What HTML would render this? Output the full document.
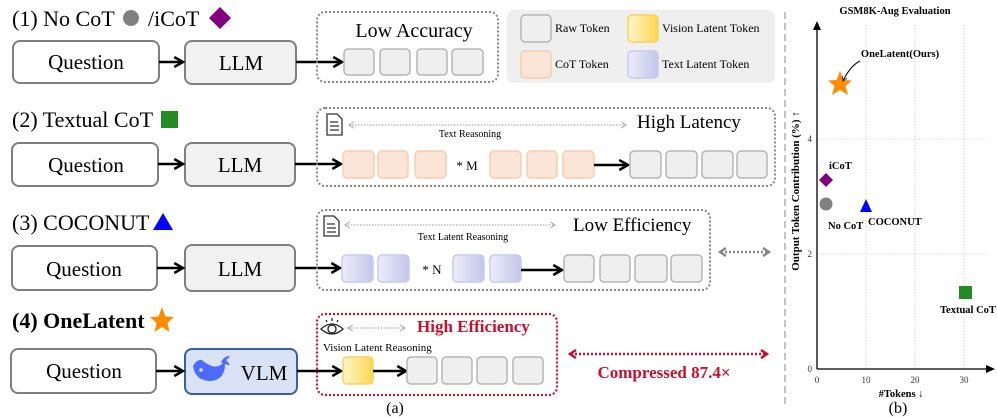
<!DOCTYPE html>
<html><head><meta charset="utf-8"><style>
html,body{margin:0;padding:0;background:#fff;}
svg{display:block;font-family:"Liberation Serif",serif;}
</style></head><body>
<svg width="997" height="418" viewBox="0 0 997 418" xmlns="http://www.w3.org/2000/svg">
<defs>
<marker id="ah" viewBox="0 0 10 10" refX="8" refY="5" markerWidth="5" markerHeight="5" orient="auto"><path d="M1,1 L8,5 L1,9" fill="none" stroke="#000" stroke-width="2"/></marker>
<marker id="ga" viewBox="0 0 10 10" refX="8" refY="5" markerWidth="8" markerHeight="8" orient="auto-start-reverse"><path d="M2,1 L8,5 L2,9" fill="none" stroke="#999" stroke-width="1"/></marker>
<marker id="gb" viewBox="0 0 10 10" refX="7" refY="5" markerWidth="4" markerHeight="4" orient="auto-start-reverse"><path d="M2,1 L8,5 L2,9" fill="none" stroke="#888" stroke-width="2.5"/></marker>
<marker id="rb" viewBox="0 0 10 10" refX="7" refY="5" markerWidth="4" markerHeight="4" orient="auto-start-reverse"><path d="M2,1 L8,5 L2,9" fill="none" stroke="#c8102e" stroke-width="2.5"/></marker>
<marker id="ka" viewBox="0 0 10 10" refX="8" refY="5" markerWidth="6" markerHeight="6" orient="auto"><path d="M1,1 L8,5 L1,9" fill="none" stroke="#000" stroke-width="1.2"/></marker>
<linearGradient id="gp" x1="0" x2="1"><stop offset="0" stop-color="#eceefa"/><stop offset="1" stop-color="#c3c6ea"/></linearGradient>
<linearGradient id="gy" x1="0" x2="1"><stop offset="0" stop-color="#fff6cc"/><stop offset="1" stop-color="#fbd651"/></linearGradient>
</defs>
<g font-size="22">
<!-- Row 1 -->
<text x="12" y="26">(1) No CoT</text>
<circle cx="131" cy="18" r="8" fill="#808080"/>
<text x="148" y="26">/iCoT</text>
<path d="M220,7 L231,18 L220,29 L209,18Z" fill="#800080"/>
<rect x="13" y="41" width="146" height="42" rx="7" fill="#fff" stroke="#7f7f7f" stroke-width="2"/>
<text x="86" y="69" text-anchor="middle" font-size="21">Question</text>
<rect x="185" y="41" width="111" height="43" rx="7" fill="#f1f1f1" stroke="#7f7f7f" stroke-width="2"/>
<text x="241" y="70" text-anchor="middle" font-size="21">LLM</text>
<line x1="159" y1="62" x2="183" y2="62" stroke="#000" stroke-width="2.5" marker-end="url(#ah)"/>
<line x1="296" y1="62" x2="342" y2="62" stroke="#000" stroke-width="2.5" marker-end="url(#ah)"/>
<rect x="317" y="12" width="181" height="70" rx="8" fill="none" stroke="#888" stroke-width="2" stroke-dasharray="2,2"/>
<text x="414" y="37" text-anchor="middle" font-size="20">Low Accuracy</text>
<g fill="#efefef" stroke="#b5b5b5" stroke-width="1.5">
<rect x="344" y="49" width="30" height="26" rx="4"/><rect x="380" y="49" width="30" height="26" rx="4"/><rect x="417" y="49" width="30" height="26" rx="4"/><rect x="452" y="49" width="31" height="26" rx="4"/>
</g>
<!-- Legend -->
<rect x="507" y="10" width="268" height="73" rx="7" fill="#efefef"/>
<rect x="521" y="15" width="30" height="27" rx="4" fill="#efefef" stroke="#b5b5b5" stroke-width="1.5"/>
<rect x="521" y="51" width="30" height="27" rx="4" fill="#fbe5d6" stroke="#f6cfae" stroke-width="1.5"/>
<rect x="628" y="15" width="30" height="27" rx="4" fill="url(#gy)" stroke="#f9d35d" stroke-width="1.5"/>
<rect x="628" y="51" width="30" height="27" rx="4" fill="url(#gp)" stroke="#c9cbee" stroke-width="1.5"/>
<g font-size="12"><text x="555" y="32">Raw Token</text><text x="555" y="68">CoT Token</text><text x="662" y="32">Vision Latent Token</text><text x="662" y="68">Text Latent Token</text></g>

<!-- Row 2 -->
<text x="12" y="127">(2) Textual CoT</text>
<rect x="161" y="111" width="17" height="17" fill="#228b22"/>
<rect x="12" y="143" width="146" height="43" rx="7" fill="#fff" stroke="#7f7f7f" stroke-width="2"/>
<text x="86" y="172" text-anchor="middle" font-size="21">Question</text>
<rect x="185" y="143" width="110" height="43" rx="7" fill="#f1f1f1" stroke="#7f7f7f" stroke-width="2"/>
<text x="240" y="172" text-anchor="middle" font-size="21">LLM</text>
<line x1="158" y1="164" x2="183" y2="164" stroke="#000" stroke-width="2.5" marker-end="url(#ah)"/>
<line x1="295" y1="164" x2="341" y2="164" stroke="#000" stroke-width="2.5" marker-end="url(#ah)"/>
<rect x="317" y="108" width="458" height="78" rx="8" fill="none" stroke="#888" stroke-width="2" stroke-dasharray="2,2"/>
<g fill="none" stroke="#333" stroke-width="1.3"><path d="M327,114 h10 l5,5 v16 h-15z"/><path d="M330,122h8M330,126h9M330,130h9"/></g>
<line x1="349" y1="125" x2="626" y2="125" stroke="#999" stroke-width="1" stroke-dasharray="1.5,1.5" marker-start="url(#ga)" marker-end="url(#ga)"/>
<text x="470" y="137" text-anchor="middle" font-size="10">Text Reasoning</text>
<text x="637" y="128" font-size="19">High Latency</text>
<g fill="#fbe5d6" stroke="#f6cfae" stroke-width="1.5">
<rect x="343" y="151" width="31" height="27" rx="4"/><rect x="378" y="151" width="30" height="27" rx="4"/><rect x="415" y="151" width="31" height="27" rx="4"/>
<rect x="490" y="151" width="31" height="27" rx="4"/><rect x="527" y="151" width="30" height="27" rx="4"/><rect x="563" y="151" width="31" height="27" rx="4"/>
</g>
<text x="467" y="170" text-anchor="middle" font-size="13">* M</text>
<line x1="594" y1="165" x2="628" y2="165" stroke="#000" stroke-width="2.5" marker-end="url(#ah)"/>
<g fill="#efefef" stroke="#b5b5b5" stroke-width="1.5">
<rect x="630" y="151" width="31" height="27" rx="4"/><rect x="666" y="151" width="31" height="27" rx="4"/><rect x="702" y="151" width="31" height="27" rx="4"/><rect x="737" y="151" width="30" height="27" rx="4"/>
</g>

<!-- Row 3 -->
<text x="12" y="230">(3) COCONUT</text>
<path d="M163,213 L173,230 L153,230Z" fill="#0000ff"/>
<rect x="12" y="246" width="145" height="44" rx="7" fill="#fff" stroke="#7f7f7f" stroke-width="2"/>
<text x="84" y="276" text-anchor="middle" font-size="21">Question</text>
<rect x="185" y="245" width="110" height="46" rx="7" fill="#f1f1f1" stroke="#7f7f7f" stroke-width="2"/>
<text x="240" y="276" text-anchor="middle" font-size="21">LLM</text>
<line x1="157" y1="268" x2="183" y2="268" stroke="#000" stroke-width="2.5" marker-end="url(#ah)"/>
<line x1="295" y1="268" x2="340" y2="268" stroke="#000" stroke-width="2.5" marker-end="url(#ah)"/>
<rect x="317" y="210" width="393" height="80" rx="8" fill="none" stroke="#888" stroke-width="2" stroke-dasharray="2,2"/>
<g fill="none" stroke="#333" stroke-width="1.3"><path d="M324,216 h10 l5,5 v15 h-15z"/><path d="M327,224h8M327,228h9M327,232h9"/></g>
<line x1="345" y1="225" x2="555" y2="225" stroke="#999" stroke-width="1" stroke-dasharray="1.5,1.5" marker-start="url(#ga)" marker-end="url(#ga)"/>
<text x="463" y="240" text-anchor="middle" font-size="10">Text Latent Reasoning</text>
<text x="573" y="231" font-size="19">Low Efficiency</text>
<g fill="url(#gp)" stroke="#c9cbee" stroke-width="1.5">
<rect x="342" y="255" width="31" height="27" rx="4"/><rect x="378" y="255" width="31" height="27" rx="4"/><rect x="453" y="255" width="31" height="27" rx="4"/><rect x="490" y="255" width="31" height="27" rx="4"/>
</g>
<text x="432" y="274" text-anchor="middle" font-size="13">* N</text>
<line x1="521" y1="270" x2="562" y2="270" stroke="#000" stroke-width="2.5" marker-end="url(#ah)"/>
<g fill="#efefef" stroke="#b5b5b5" stroke-width="1.5">
<rect x="564" y="255" width="30" height="27" rx="4"/><rect x="600" y="255" width="30" height="27" rx="4"/><rect x="635" y="255" width="32" height="27" rx="4"/><rect x="671" y="255" width="31" height="27" rx="4"/>
</g>
<line x1="721" y1="252" x2="768" y2="252" stroke="#888" stroke-width="2.5" stroke-dasharray="2,2" marker-start="url(#gb)" marker-end="url(#gb)"/>

<!-- Row 4 -->
<text x="12" y="328" font-weight="bold">(4) OneLatent</text>
<path d="M162,307 L165.5,316.5 L174,317 L167.5,323 L169.5,332 L162,327 L154.5,332 L156.5,323 L150,317 L158.5,316.5Z" fill="#ff8c00"/>
<rect x="11" y="349" width="145" height="44" rx="7" fill="#fff" stroke="#7f7f7f" stroke-width="2"/>
<text x="84" y="378" text-anchor="middle" font-size="21">Question</text>
<rect x="185" y="349" width="112" height="45" rx="7" fill="#dae3f5" stroke="#3a5ea8" stroke-width="2"/>
<g fill="#4d6bfe"><path d="M193,366 q2,14 16,15 q12,0 15,-10 q2,-5 0,-9 q-5,6 -12,4 q-6,-2 -10,-6 q-5,-1 -9,6z"/><path d="M221,362 q3,-6 9,-6 q-2,3 -4,4 q2,2 4,5 q-5,0 -9,-3z"/></g>
<circle cx="201" cy="370" r="1.8" fill="#dae3f5"/>
<text x="264" y="380" text-anchor="middle" font-size="21">VLM</text>
<line x1="156" y1="371" x2="183" y2="371" stroke="#000" stroke-width="2.5" marker-end="url(#ah)"/>
<line x1="297" y1="371" x2="341" y2="371" stroke="#000" stroke-width="2.5" marker-end="url(#ah)"/>
<rect x="317" y="314" width="240" height="81" rx="8" fill="none" stroke="#c8102e" stroke-width="2.2" stroke-dasharray="2,2"/>
<g fill="none" stroke="#222" stroke-width="1.3"><path d="M321,329 q11,-10 22,0 q-11,10 -22,0z"/><circle cx="332" cy="329" r="4"/><path d="M326,320l1,2M332,318v3M338,320l-1,2"/></g>
<line x1="348" y1="328" x2="405" y2="328" stroke="#999" stroke-width="1" stroke-dasharray="1.5,1.5" marker-start="url(#ga)" marker-end="url(#ga)"/>
<text x="417" y="332" font-size="17" font-weight="bold" fill="#c8102e">High Efficiency</text>
<text x="323" y="351" font-size="11">Vision Latent Reasoning</text>
<rect x="343" y="357" width="30" height="27" rx="4" fill="url(#gy)" stroke="#f9d35d" stroke-width="1.5"/>
<line x1="373" y1="371" x2="406" y2="371" stroke="#000" stroke-width="2.5" marker-end="url(#ah)"/>
<g fill="#efefef" stroke="#b5b5b5" stroke-width="1.5">
<rect x="407" y="357" width="30" height="27" rx="4"/><rect x="442" y="357" width="30" height="27" rx="4"/><rect x="477" y="357" width="30" height="27" rx="4"/><rect x="513" y="357" width="30" height="27" rx="4"/>
</g>
<line x1="571" y1="354" x2="766" y2="354" stroke="#c8102e" stroke-width="2.5" stroke-dasharray="2,2" marker-start="url(#rb)" marker-end="url(#rb)"/>
<text x="664" y="378" text-anchor="middle" font-size="17" font-weight="bold" fill="#c8102e">Compressed 87.4×</text>
<text x="395" y="413" text-anchor="middle" font-size="16">(a)</text>
</g>

<!-- divider -->
<line x1="785" y1="12" x2="785" y2="405" stroke="#888" stroke-width="1" stroke-dasharray="7,4"/>

<!-- Chart -->
<text x="895" y="14" text-anchor="middle" font-size="10.5" font-weight="bold">GSM8K-Aug Evaluation</text>
<g stroke="#ccc" stroke-width="0.8" stroke-dasharray="1.5,1.5">
<line x1="866" y1="25" x2="866" y2="369"/><line x1="915" y1="25" x2="915" y2="369"/><line x1="964" y1="25" x2="964" y2="369"/>
<line x1="817" y1="254" x2="988" y2="254"/><line x1="817" y1="139" x2="988" y2="139"/>
</g>
<line x1="817" y1="369" x2="817" y2="26" stroke="#000" stroke-width="1.3"/>
<path d="M813,30 L817,21 L821,30Z"/>
<line x1="817" y1="369" x2="990" y2="369" stroke="#000" stroke-width="1.3"/>
<path d="M986,365 L995,369 L986,373Z"/>
<g font-size="9" fill="#333">
<text x="812" y="372" text-anchor="end">0</text><text x="812" y="257" text-anchor="end">2</text><text x="812" y="142" text-anchor="end">4</text>
<text x="817" y="383" text-anchor="middle">0</text><text x="866" y="383" text-anchor="middle">10</text><text x="915" y="383" text-anchor="middle">20</text><text x="964" y="383" text-anchor="middle">30</text>
</g>
<text x="901" y="397" text-anchor="middle" font-size="10.5" font-weight="bold">#Tokens ↓</text>
<text x="898" y="413" text-anchor="middle" font-size="16">(b)</text>
<text transform="translate(799,191) rotate(-90)" text-anchor="middle" font-size="11" font-weight="bold">Output Token Contribution (%) ↑</text>
<path d="M840,71 L843.5,80 L852,80.5 L845.5,86 L848,95 L840,90 L832,95 L834.5,86 L828,80.5 L836.5,80Z" fill="#ff8c00"/>
<path d="M826,173 L833,180 L826,187 L819,180Z" fill="#800080"/>
<circle cx="826" cy="204" r="6.5" fill="#808080"/>
<path d="M866,199 L872,212 L860,212Z" fill="#0000ff"/>
<rect x="959" y="286" width="13" height="13" fill="#228b22"/>
<g font-size="10.5" font-weight="bold">
<text x="900" y="57" text-anchor="middle">OneLatent(Ours)</text>
<text x="829" y="169">iCoT</text>
<text x="828" y="229">No CoT</text>
<text x="868" y="225">COCONUT</text>
<text x="940" y="313">Textual CoT</text>
</g>
<path d="M860,61 Q850,66 843,81" fill="none" stroke="#000" stroke-width="1" marker-end="url(#ka)"/>
</svg>
</body></html>
